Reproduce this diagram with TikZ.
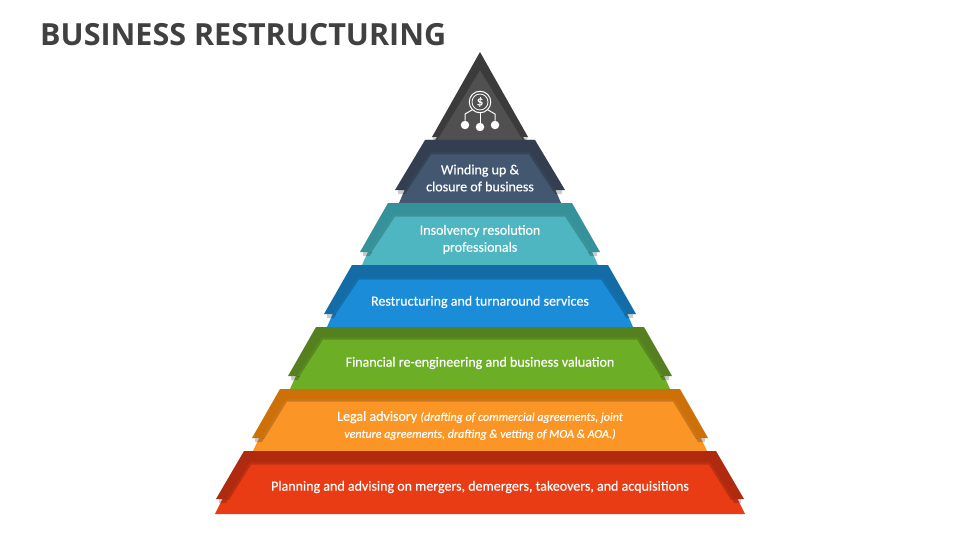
\documentclass[tikz,border=0pt]{standalone}
\usepackage{fontspec}
\setmainfont{Carlito}
\newfontfamily\titlefont{Open Sans}
\newfontfamily\labelfont[FakeBold=0.35]{Carlito}
\definecolor{fRed}{HTML}{E93C14}\definecolor{dRed}{HTML}{B02A0F}
\definecolor{fOrange}{HTML}{FB9526}\definecolor{dOrange}{HTML}{CC7007}
\definecolor{fGreen}{HTML}{6DAE27}\definecolor{dGreen}{HTML}{548020}
\definecolor{fBlue}{HTML}{1A8CD8}\definecolor{dBlue}{HTML}{136CA5}
\definecolor{fTeal}{HTML}{4DB6C0}\definecolor{dTeal}{HTML}{36929A}
\definecolor{fNavy}{HTML}{435770}\definecolor{dNavy}{HTML}{333F50}
\definecolor{fGray}{HTML}{505050}\definecolor{dGray}{HTML}{3B3B3B}
\definecolor{ink}{HTML}{404040}
\tikzset{
  bandtext/.style={text=white,font=\labelfont\fontsize{14}{17}\selectfont,align=center,inner sep=0pt},
  iconline/.style={draw=white,line width=1pt},
  icondot/.style={fill=white,draw=none},
  castshadow/.style={fill=black,opacity=0.2,draw=none},
}
% #1 face #2 dark #3 ybot #4 hbot #5 ytop #6 houter #7 ytip #8 htip #9 yinner
\newcommand{\bandshape}[9]{%
  \def\fc{#1}\def\dc{#2}\def\yb{#3}\def\hb{#4}\def\yt{#5}\def\ho{#6}\def\ytip{#7}\def\htip{#8}\def\yin{#9}%
  \bandrest}
\newcommand{\bandrest}[2]{% #1 hinner #2 hinner tip
  \fill[\fc] (480-\hb,\yb) -- (480-#1-4,\yt) -- (480+#1+4,\yt) -- (480+\hb,\yb) -- cycle;
  \fill[castshadow] (480-\htip+3,\ytip+4) -- (480-\htip+10,\ytip+4) -- (480-\htip+12,\ytip) -- (480-\htip+3,\ytip) -- cycle;
  \fill[castshadow] (480+\htip-3,\ytip+4) -- (480+\htip-10,\ytip+4) -- (480+\htip-12,\ytip) -- (480+\htip-3,\ytip) -- cycle;
  \fill[castshadow] (480-#2,\ytip) -- (480-#2+2,\ytip+1) -- (480-#1+1,\yin+2.5) -- (480+#1-1,\yin+2.5) -- (480+#2-2,\ytip+1) -- (480+#2,\ytip) -- (480+#1,\yin) -- (480-#1,\yin) -- cycle;
  \fill[\dc] (480-\ho,\yt) -- (480+\ho,\yt) -- (480+\htip,\ytip) -- (480+#2,\ytip) -- (480+#1,\yin) -- (480-#1,\yin) -- (480-#2,\ytip) -- (480-\htip,\ytip) -- cycle;
}
\begin{document}
\begin{tikzpicture}[x=1pt,y=-1pt]
\useasboundingbox (0,0) rectangle (960,540);
\node[anchor=west,inner sep=0pt,text=ink,font=\titlefont\bfseries\fontsize{30.5}{36}\selectfont] (title) at (40,34.5) {BUSINESS RESTRUCTURING};
% top triangle
\fill[fGray] (480,62) -- (434,142) -- (526,142) -- cycle;
\fill[castshadow] (432,137) -- (439,137) -- (437,141) -- (434,141) -- cycle;
\fill[castshadow] (528,137) -- (521,137) -- (523,141) -- (526,141) -- cycle;
\fill[dGray] (480,52) -- (528,137) -- (521,137) -- (480,70) -- (439,137) -- (432,137) -- cycle;
% icon
\node[circle,draw=white,line width=1pt,minimum size=21.5pt,inner sep=0pt] (coin) at (480,102) {};
\node[circle,draw=white,line width=0.8pt,minimum size=16pt,inner sep=0pt,text=white,font=\labelfont\fontsize{13}{13}\selectfont] (dollar) at (480,102) {\$};
\node[circle,icondot,minimum size=8.5pt,inner sep=0pt] (dotL) at (465,125) {};
\node[circle,icondot,minimum size=8.5pt,inner sep=0pt] (dotM) at (480,127) {};
\node[circle,icondot,minimum size=8.5pt,inner sep=0pt] (dotR) at (495,125) {};
\draw[iconline] (coin.south) -- (dotM.north);
\draw[iconline,line join=round] (coin.-135) -- (465,114) -- (dotL.north);
\draw[iconline,line join=round] (coin.-45) -- (495,114) -- (dotR.north);
% bands, top to bottom
\bandshape{fNavy}{dNavy}{203}{81}{140}{55}{190}{85}{152}{50}{75}
\bandshape{fTeal}{dTeal}{265}{118}{203}{92}{252}{120}{214}{86}{111}
\bandshape{fBlue}{dBlue}{327}{153}{265}{128}{314}{156}{277}{122}{147}
\bandshape{fGreen}{dGreen}{389}{190}{327}{164}{376}{192}{337}{158}{183}
\bandshape{fOrange}{dOrange}{451}{227}{389}{200}{438}{228}{399}{194}{218}
\bandshape{fRed}{dRed}{514}{265}{451}{236}{499}{264}{462}{230}{253}
\node[bandtext] (t1) at (480,178) {Winding up \&\\closure of business};
\node[bandtext] (t2) at (480,239.5) {Insolvency resolution\\professionals};
\node[bandtext] (t3) at (480,302) {Restructuring and turnaround services};
\node[bandtext] (t4) at (480,363) {Financial re-engineering and business valuation};
\node[bandtext] (t5) at (480,425.5) {Legal advisory \textit{\fontsize{12}{17}\selectfont(drafting of commercial agreements, joint}\\\textit{\fontsize{12}{17}\selectfont venture agreements, drafting \& vetting of MOA \& AOA.)}};
\node[bandtext] (t6) at (480,487) {Planning and advising on mergers, demergers, takeovers, and acquisitions};
\end{tikzpicture}
\end{document}
